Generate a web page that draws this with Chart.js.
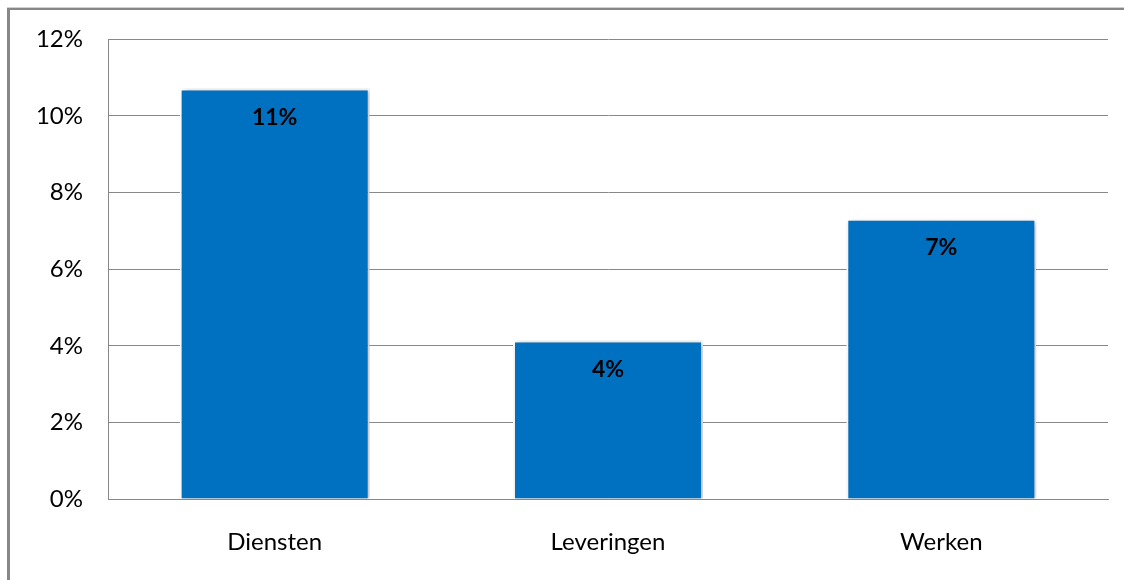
<!DOCTYPE html>
<html>
<head>
<meta charset="utf-8">
<script src="https://cdn.jsdelivr.net/npm/chart.js@4"></script>
<style>
  body { margin: 0; background: #fff; }
  #wrap { width: 1124px; height: 580px; position: relative; }
</style>
</head>
<body>
<div id="wrap"><canvas id="myChart" width="1124" height="580"></canvas></div>
<script>
const categories = ['Diensten', 'Leveringen', 'Werken'];
const values = [10.72, 4.14, 7.32];
const valueLabels = ['11%', '4%', '7%'];
const yTicks = [0, 2, 4, 6, 8, 10, 12];

const fontFamily = 'Lato, "Open Sans", sans-serif';

// grey frame on the left and top edges
const framePlugin = {
    id: 'frame',
    beforeDraw(chart) {
        const ctx = chart.ctx;
        ctx.save();
        ctx.fillStyle = '#d0d0d0';
        ctx.fillRect(7, 7, chart.width - 7, 1);
        ctx.fillStyle = '#888888';
        ctx.fillRect(7, 8, chart.width - 7, 2);
        ctx.fillRect(7, 8, 3, chart.height - 8);
        ctx.restore();
    }
};

const shadowPlugin = {
    id: 'barShadow',
    beforeDatasetDraw(chart) {
        const ctx = chart.ctx;
        ctx.save();
        ctx.shadowColor = 'rgba(0,0,0,0.3)';
        ctx.shadowBlur = 5;
        ctx.shadowOffsetX = 2;
        ctx.shadowOffsetY = 1;
    },
    afterDatasetDraw(chart) {
        chart.ctx.restore();
    }
};

const labelPlugin = {
    id: 'valueLabels',
    afterDatasetsDraw(chart) {
        const ctx = chart.ctx;
        const meta = chart.getDatasetMeta(0);
        ctx.save();
        ctx.font = 'bold 23px ' + fontFamily;
        ctx.fillStyle = '#000';
        ctx.textAlign = 'center';
        ctx.textBaseline = 'middle';
        meta.data.forEach((bar, i) => {
            ctx.fillText(valueLabels[i], bar.x, bar.y + 29);
        });
        ctx.restore();
    }
};

const ctx = document.getElementById('myChart').getContext('2d');
const chart = new Chart(ctx, {
    type: 'bar',
    data: {
        labels: categories,
        datasets: [{
            data: values,
            backgroundColor: '#0070C0',
            borderColor: '#ffffff',
            borderWidth: 2,
            categoryPercentage: 0.57,
            barPercentage: 1
        }]
    },
    options: {
        responsive: false,
        animation: false,
        layout: { padding: { left: 0, top: 39, right: 16, bottom: 0 } },
        plugins: {
            legend: { display: false },
            tooltip: { enabled: false }
        },
        scales: {
            x: {
                grid: { display: false, drawTicks: false },
                border: { display: true, color: '#888888', width: 1 },
                ticks: {
                    color: '#000',
                    font: { family: fontFamily, size: 24 },
                    padding: 29
                },
                afterFit(scale) { scale.height = 81; }
            },
            y: {
                min: 0,
                max: 12,
                afterBuildTicks(scale) {
                    scale.ticks = yTicks.map(v => ({ value: v }));
                },
                grid: { color: '#888888', lineWidth: 1, drawTicks: false },
                border: { display: true, color: '#888888', width: 1 },
                ticks: {
                    color: '#000',
                    font: { family: fontFamily, size: 24 },
                    padding: 25,
                    callback: v => v + '%'
                },
                afterFit(scale) { scale.width = 108; }
            }
        }
    },
    plugins: [framePlugin, shadowPlugin, labelPlugin]
});
</script>
</body>
</html>
